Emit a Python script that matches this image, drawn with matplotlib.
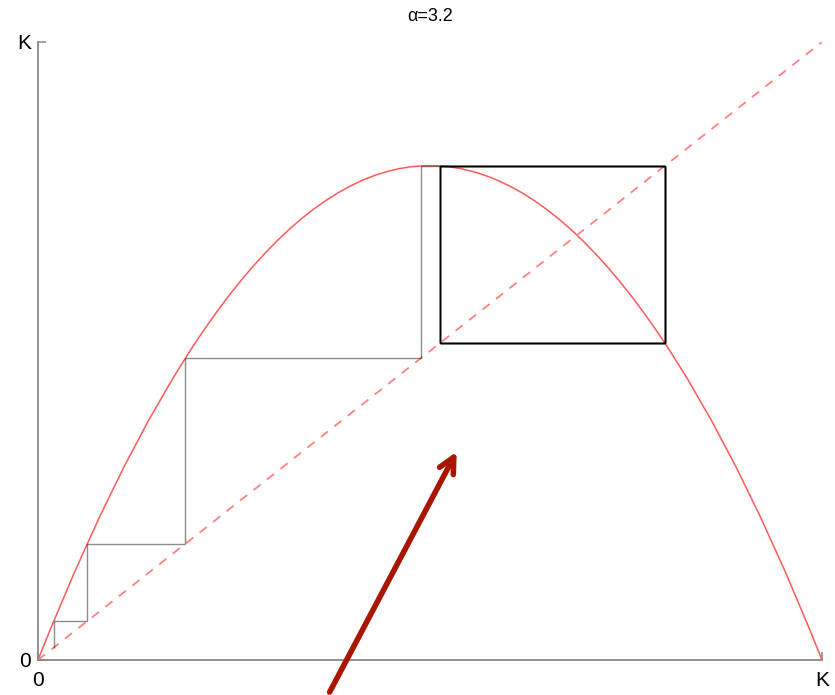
import numpy as np
import matplotlib
matplotlib.use("Agg")
import matplotlib.pyplot as plt
from matplotlib.path import Path
from matplotlib.patches import PathPatch

plt.rcParams['font.family'] = ['Liberation Sans', 'DejaVu Sans']

alpha_val = 3.2

# map curve: zero at 0 and K, peak at K/2
curve_ends = [0.0, 1.0]
peak_x = 0.5
peak_y = 0.80

# cobweb orbit: transient then the 2-cycle
orbit_start = [0.020, 0.063, 0.188, 0.489]
orbit_cycle = [0.800, 0.513]
n_cycle = 8

tick_vals = [0, 1]
tick_labels = ['0', 'K']

# arrow annotation (tail, head) in axis units
arrow_tail = (0.372, -0.052)
arrow_head = (0.534, 0.337)

orbit = orbit_start + orbit_cycle * n_cycle

fig = plt.figure(figsize=(8.35, 6.95), dpi=100)
ax = fig.add_axes([0.0455, 0.0504, 0.9389, 0.8892])

# parabola as a quadratic bezier (control point at twice the peak)
verts = [(curve_ends[0], 0), (peak_x, 2 * peak_y), (curve_ends[1], 0)]
parab = Path(verts, [Path.MOVETO, Path.CURVE3, Path.CURVE3])
ax.add_patch(PathPatch(parab, facecolor='none', edgecolor='#ff5a5a', lw=1.1, zorder=2))

ax.plot([0, 1], [0, 1], color='#ff8080', lw=1.3, dashes=(5, 4.5), zorder=2)

# cobweb segments drawn one by one so repeats darken
segs = []
prev = (orbit[0], orbit[0])
for a, b in zip(orbit[:-1], orbit[1:]):
    p1 = (a, b)
    p2 = (b, b)
    segs.append((prev, p1))
    segs.append((p1, p2))
    prev = p2
for s in segs:
    ax.plot([s[0][0], s[1][0]], [s[0][1], s[1][1]], color='black',
            lw=1.0, alpha=0.45, zorder=3, solid_capstyle='butt')

ax.annotate('', xy=arrow_head, xytext=arrow_tail, annotation_clip=False,
            arrowprops=dict(arrowstyle='->', color='#a81500', lw=4,
                            mutation_scale=28, shrinkA=0, shrinkB=0))

ax.set_xlim(0, 1)
ax.set_ylim(0, 1)
ax.set_xticks(tick_vals)
ax.set_xticklabels(tick_labels)
ax.set_yticks(tick_vals)
ax.set_yticklabels(tick_labels)
ax.tick_params(direction='in', length=6, width=1.1, color='#888888',
               labelsize=15)
ax.tick_params(axis='x', pad=8)
ax.tick_params(axis='y', pad=5)
for side in ['top', 'right']:
    ax.spines[side].set_visible(False)
for side in ['left', 'bottom']:
    ax.spines[side].set_color('#888888')
    ax.spines[side].set_linewidth(1.3)

ax.set_title('\u03b1=%.1f' % alpha_val, fontsize=13, pad=15)

fig.savefig('out.png', dpi=100)
